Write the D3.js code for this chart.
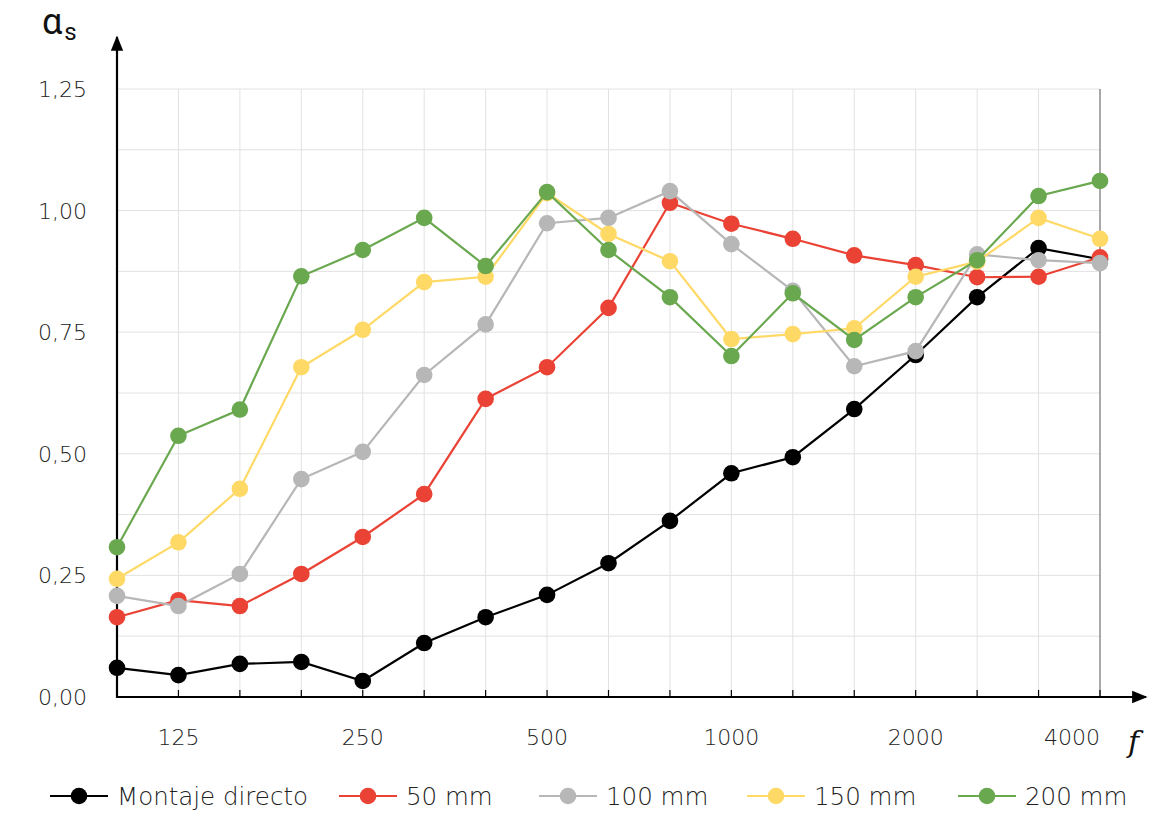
<!DOCTYPE html>
<html lang="es">
<head>
  <meta charset="UTF-8" />
  <title>Coeficiente de absorción αs</title>
  <script src="https://d3js.org/d3.v7.min.js"></script>
  <style>
    body {
      margin: 0;
      background: #fff;
      font-family: 'DejaVu Sans', sans-serif;
      font-weight: 200;
    }
    svg { display: block; }
    .grid line { stroke: #e2e2e2; stroke-width: 1; }
    .lbl { fill: #222; font-size: 22px; font-weight: 200; }
  </style>
</head>
<body>
  <div id="chart"></div>
  <script>
    // third-octave bands (Hz)
    const bands = ["100", "125", "160", "200", "250", "315", "400", "500", "630", "800",
                   "1000", "1250", "1600", "2000", "2500", "3150", "4000"];
    const shownBands = ["125", "250", "500", "1000", "2000", "4000"];
    const yTicks = [0, 0.25, 0.5, 0.75, 1.0, 1.25];

    const seriesNames = ["Montaje directo", "50 mm", "100 mm", "150 mm", "200 mm"];
    const montajeDirecto = [0.06, 0.045, 0.068, 0.072, 0.033, 0.111, 0.164, 0.21, 0.275, 0.362, 0.46, 0.493, 0.592, 0.703, 0.822, 0.923, 0.90];
    const mm50  = [0.164, 0.199, 0.187, 0.253, 0.329, 0.417, 0.613, 0.678, 0.80, 1.016, 0.973, 0.942, 0.908, 0.888, 0.863, 0.864, 0.904];
    const mm100 = [0.208, 0.187, 0.253, 0.448, 0.504, 0.662, 0.766, 0.974, 0.985, 1.040, 0.931, 0.835, 0.68, 0.711, 0.91, 0.898, 0.892];
    const mm150 = [0.243, 0.318, 0.428, 0.678, 0.755, 0.853, 0.864, 1.036, 0.952, 0.896, 0.736, 0.746, 0.758, 0.864, 0.895, 0.985, 0.942];
    const mm200 = [0.308, 0.537, 0.591, 0.865, 0.919, 0.985, 0.886, 1.038, 0.919, 0.822, 0.701, 0.83, 0.734, 0.822, 0.898, 1.03, 1.061];
    const colors = ["#000000", "#ea4335", "#b7b7b7", "#ffd966", "#6aa84f"];

    const series = [montajeDirecto, mm50, mm100, mm150, mm200].map((vals, i) => ({
      name: seriesNames[i], color: colors[i],
      values: vals.map((v, j) => ({ band: bands[j], value: v }))
    }));

    const width = 1153, height = 817;
    const plotLeft = 117, plotRight = 1100, plotTop = 89, plotBottom = 697;

    const svg = d3.select("#chart").append("svg")
      .attr("width", width).attr("height", height);

    const x = d3.scalePoint().domain(bands).range([plotLeft, plotRight]);
    const y = d3.scaleLinear().domain([0, 1.25]).range([plotBottom, plotTop]);

    // grid
    const grid = svg.append("g").attr("class", "grid");
    grid.selectAll(".h").data(d3.range(1, 11).map(d => d * 0.125)).enter().append("line")
      .attr("x1", plotLeft).attr("x2", plotRight)
      .attr("y1", d => y(d)).attr("y2", d => y(d));
    grid.selectAll(".v").data(bands.slice(1, -1)).enter().append("line")
      .attr("x1", d => x(d)).attr("x2", d => x(d))
      .attr("y1", plotTop).attr("y2", plotBottom);
    svg.append("line")
      .attr("x1", plotRight).attr("x2", plotRight).attr("y1", plotTop).attr("y2", plotBottom)
      .attr("stroke", "#555").attr("stroke-width", 1);

    // y labels
    svg.append("g").selectAll("text").data(yTicks).enter().append("text")
      .attr("class", "lbl")
      .attr("x", 87).attr("y", d => y(d)).attr("dy", "0.36em")
      .attr("text-anchor", "end")
      .text(d => d.toFixed(2).replace(".", ","));

    // x ticks + labels
    svg.append("g").selectAll("line").data(bands.slice(1)).enter().append("line")
      .attr("x1", d => x(d)).attr("x2", d => x(d))
      .attr("y1", plotBottom).attr("y2", plotBottom - 7)
      .attr("stroke", "#000").attr("stroke-width", 1.2);
    svg.append("g").selectAll("text").data(shownBands).enter().append("text")
      .attr("class", "lbl")
      .attr("x", d => d === "4000" ? x(d) - 28 : x(d))
      .attr("y", 745)
      .attr("text-anchor", "middle")
      .text(d => d);

    // axes with arrows
    svg.append("defs").append("marker")
      .attr("id", "arrow").attr("viewBox", "0 0 10 10")
      .attr("refX", 9).attr("refY", 5)
      .attr("markerWidth", 7).attr("markerHeight", 7)
      .attr("markerUnits", "strokeWidth")
      .attr("orient", "auto")
      .append("path").attr("d", "M0,1 L10,5 L0,9 Z").attr("fill", "#000");
    svg.append("line")
      .attr("x1", plotLeft).attr("x2", 1146).attr("y1", plotBottom).attr("y2", plotBottom)
      .attr("stroke", "#000").attr("stroke-width", 2.2).attr("marker-end", "url(#arrow)");
    svg.append("line")
      .attr("x1", plotLeft).attr("x2", plotLeft).attr("y1", plotBottom + 1).attr("y2", 37)
      .attr("stroke", "#000").attr("stroke-width", 2.2).attr("marker-end", "url(#arrow)");

    // axis titles
    const at = svg.append("text").attr("x", 42).attr("y", 34)
      .attr("font-size", 36).attr("font-weight", 400).attr("fill", "#111")
      .attr("font-family", "Roboto, sans-serif");
    at.append("tspan").text("α");
    at.append("tspan").attr("font-size", 24).attr("dy", 6).attr("dx", 2).text("s");
    svg.append("text").attr("x", 1128).attr("y", 752)
      .attr("font-family", "'DejaVu Serif', 'Liberation Serif', serif")
      .attr("font-style", "italic").attr("font-weight", 400)
      .attr("font-size", 30).attr("fill", "#111")
      .text("f");

    // series
    const line = d3.line().x(d => x(d.band)).y(d => y(d.value));
    const gs = svg.append("g").selectAll("g").data(series).enter().append("g");
    gs.append("path")
      .attr("d", d => line(d.values))
      .attr("fill", "none").attr("stroke", d => d.color).attr("stroke-width", 2.2);
    gs.each(function (s) {
      d3.select(this).selectAll("circle").data(s.values).enter().append("circle")
        .attr("cx", d => x(d.band)).attr("cy", d => y(d.value))
        .attr("r", 8.3).attr("fill", s.color);
    });

    // legend
    const legendX = [50, 339, 539, 747, 958];
    const lg = svg.append("g").selectAll("g").data(series).enter().append("g")
      .attr("transform", (d, i) => `translate(${legendX[i]},796)`);
    lg.append("line").attr("x1", 0).attr("x2", 58)
      .attr("stroke", d => d.color).attr("stroke-width", 2.2);
    lg.append("circle").attr("cx", 29).attr("r", 8.3).attr("fill", d => d.color);
    lg.append("text").attr("class", "lbl").attr("x", 67).attr("dy", "0.36em")
      .style("font-size", "24.5px")
      .text(d => d.name);
  </script>
</body>
</html>
